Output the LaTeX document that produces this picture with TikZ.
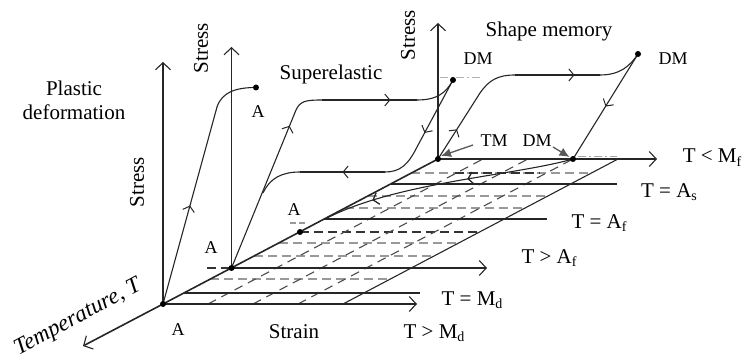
\documentclass[tikz,border=0pt]{standalone}
\usepackage{fontspec}
\setmainfont{Liberation Serif}
\usetikzlibrary{arrows.meta,decorations.markings}
\newcommand\tsub[1]{\raisebox{-0.35ex}{\fontsize{14}{14}\selectfont #1}}
\tikzset{
  axisline/.style={line width=1.3pt, draw=black!85, -{Straight Barb[length=7pt,width=15pt,line width=1.1pt]}},
  plainline/.style={line width=1.3pt, draw=black!85},
  curve/.style={line width=1.1pt, draw=black!85},
  gdash/.style={line width=1.3pt, draw=black!40, dash pattern=on 9pt off 5pt},
  bdash/.style={line width=1.3pt, draw=black!80, dash pattern=on 9pt off 5pt},
  ddash/.style={line width=1.1pt, draw=black!70, dash pattern=on 9pt off 6pt},
  marr/.style={postaction={decorate}, decoration={markings, mark=at position #1 with {\arrow{Straight Barb[length=5pt,width=12pt,line width=1pt]}}}},
  pointer/.style={line width=1.3pt, draw=black!65, -{Latex[length=10pt,width=9pt]}, color=black!65},
  dot/.style={circle, fill=black, inner sep=0pt, minimum size=6pt},
  lab/.style={font=\fontsize{18}{20}\selectfont, anchor=base},
  big/.style={font=\fontsize{21}{25}\selectfont, anchor=base},
}
\begin{document}
\begin{tikzpicture}[x=1pt,y=-1pt]
\useasboundingbox (0,0) rectangle (743,363);
% key points
\coordinate (P1) at (163,304);
\coordinate (P2) at (231.5,268);
\coordinate (P3) at (300,232);
\coordinate (P4) at (438,159);
\coordinate (P5) at (573,159);
\coordinate (Tend) at (83,346);
\coordinate (S1) at (163,62);
\coordinate (S2) at (231.5,47);
\coordinate (S3) at (438,23);
\coordinate (E1) at (417,304);
\coordinate (E2) at (487,268);
\coordinate (E6) at (657,159);
\coordinate (R1) at (343,304);
\coordinate (R4) at (618,159);
% dashed grid on the strain-temperature plane
\foreach \yy in {279,256,243,208,196,173}{
  \pgfmathsetmacro\xa{163+(304-\yy)*1.8966}
  \pgfmathsetmacro\xb{\xa+180}
  \draw[gdash] (\xa,\yy) -- (\xb,\yy);
}
\draw[bdash] (455,173) -- (540,173);
\draw[bdash] (P3) -- (480,232);
\foreach \d in {45,90,135}{
  \draw[ddash] (163+\d,304) -- (438+\d,159);
}
\draw[bdash] (207,268) -- (P2);
\draw[gdash, dash pattern=on 6pt off 3pt] (290,223) -- (306,223);
\draw[line width=0.9pt, draw=black!35, dash pattern=on 8pt off 3pt on 2pt off 3pt] (578,156.5) -- (617,156.5);
\draw[line width=0.9pt, draw=black!30, dash pattern=on 8pt off 3pt on 2pt off 3pt] (440,77) -- (482,77);
% right edge of the plane
\draw[curve] (R1) -- (R4);
% temperature axis
\draw[line width=1.6pt, draw=black!85, -{Straight Barb[length=7pt,width=15pt,line width=1.1pt]}] (P4) -- (P1) -- (Tend);
% stress axes
\draw[axisline] (P1) -- (S1);
\draw[axisline] (P2) -- (S2);
\draw[axisline] (P4) -- (S3);
% strain / temperature lines
\draw[axisline] (P1) -- (E1);
\draw[plainline] (184,293) -- (420,293);
\draw[axisline] (P2) -- (E2);
\draw[plainline] (324,219) -- (547,219);
\draw[plainline] (391,184) -- (617,184);
\draw[axisline] (P4) -- (E6);
% plastic deformation
\coordinate (PL) at (256,87.5);
\draw[curve, marr=0.5] (P1) -- (217,107);
\draw[curve] (217,107) .. controls (222,92) and (236,87.5) .. (PL);
% superelastic
\coordinate (SE) at (453,80);
\draw[curve, marr=0.9] (P2) -- (296,110);
\draw[curve] (296,110) .. controls (300,101) and (306,100) .. (322,100);
\draw[curve, marr=0.72] (322,100) -- (417,100);
\draw[curve] (417,100) .. controls (437,100) and (446,93) .. (SE);
\draw[curve, marr=0.79] (SE) -- (417,147);
\draw[curve] (417,147) .. controls (408,165) and (400,172) .. (385,172);
\draw[curve, marr=0.5] (385,172) -- (300,172);
\draw[curve] (300,172) .. controls (282,172) and (270,178) .. (263,193);
% shape memory
\coordinate (SM) at (638,54);
\draw[curve, marr=0.45] (P4) -- (480,93);
\draw[curve] (480,93) .. controls (489,80) and (498,75) .. (515,75);
\draw[curve, marr=0.7] (515,75) -- (600,75);
\draw[curve] (600,75) .. controls (620,75) and (630,66) .. (SM);
\draw[curve, marr=0.5] (SM) -- (P5);
% strain recovery on heating
\coordinate (RA) at (325,219);
\draw[curve, marr=0.42, marr=0.8] (P5) .. controls (513,176) and (396,182) .. (RA);
% dots
\foreach \p in {P1,P2,P3,P4,P5,PL,SE,SM}{ \node[dot] at (\p) {}; }
% pointers
\draw[pointer] (473,145) -- (441,156);
\draw[pointer] (553,147) -- (569.5,157);
% labels
\node[big] (plastic) at (74,96) {Plastic};
\node[big] (deform) at (74,120) {deformation};
\node[big, rotate=90, anchor=center] (st1) at (137,182) {Stress};
\node[big, rotate=90, anchor=center] (st2) at (201,48) {Stress};
\node[big, rotate=90, anchor=center] (st3) at (408,35) {Stress};
\node[big] (super) at (331,80) {Superelastic};
\node[big] (shape) at (549,37) {Shape memory};
\node[lab] (dm1) at (478,65) {DM};
\node[lab] (dm2) at (673,65) {DM};
\node[lab] (tm) at (494,147) {TM};
\node[lab] (dm3) at (537,147) {DM};
\node[lab] (a1) at (258,118) {A};
\node[lab] (a2) at (211,253) {A};
\node[lab] (a3) at (294,215) {A};
\node[lab] (a4) at (178,335) {A};
\node[big] (strain) at (294,338) {Strain};
\node[big] (tmd2) at (434,338) {T > M\tsub{d}};
\node[big] (tmd) at (472,305) {T = M\tsub{d}};
\node[big] (taf2) at (549,263) {T > A\tsub{f}};
\node[big] (taf) at (599,228) {T = A\tsub{f}};
\node[big] (tas) at (669,197) {T = A\tsub{s}};
\node[big] (tmf) at (712,163) {T < M\tsub{f}};
\node[rotate=28, anchor=center, inner sep=0pt, font=\fontsize{23}{25}\selectfont\itshape] (temp) at (78,318) {Temperature, T};
\end{tikzpicture}
\end{document}
